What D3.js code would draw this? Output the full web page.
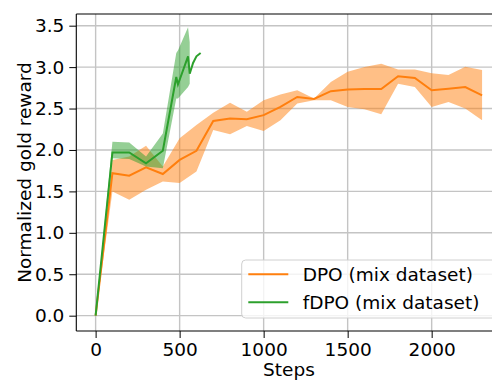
<!DOCTYPE html>
<html><head><meta charset="utf-8">
<script src="https://cdn.jsdelivr.net/npm/d3@7"></script>
<style>html,body{margin:0;padding:0;background:#fff;overflow:hidden}svg{display:block}</style>
</head><body>
<script>
const dpoSteps = [0,100,200,300,400,500,600,700,800,900,1000,1100,1200,1300,1400,1500,1600,1700,1800,1900,2000,2100,2200,2300];
const dpoMean  = [0,1.72,1.69,1.79,1.71,1.88,1.99,2.35,2.38,2.37,2.42,2.52,2.64,2.615,2.71,2.73,2.735,2.735,2.89,2.87,2.72,2.74,2.76,2.66];
const dpoUpper = [0,1.88,1.92,2.05,1.80,2.14,2.30,2.45,2.57,2.46,2.60,2.67,2.72,2.62,2.82,2.945,3.00,3.04,2.97,2.97,2.925,2.905,3.005,2.965];
const dpoLower = [0,1.50,1.40,1.52,1.62,1.60,1.74,2.24,2.19,2.29,2.23,2.36,2.56,2.60,2.60,2.52,2.49,2.43,2.80,2.76,2.52,2.58,2.50,2.36];

const fdpoSteps = [0,100,200,300,400,480,490,550,560,580,600,625];
const fdpoMean  = [0,1.97,1.97,1.84,1.99,2.88,2.79,3.13,2.92,3.05,3.13,3.17];
const fdpoUpper = [0,2.10,2.09,1.92,2.20,3.17,3.20,3.48,3.30,null,null,null];
const fdpoLower = [0,1.90,1.89,1.80,1.78,2.62,2.62,2.76,2.80,null,null,null];

const xTicks = [0,500,1000,1500,2000];
const yTicks = [0,0.5,1.0,1.5,2.0,2.5,3.0,3.5];
const seriesNames = ["DPO (mix dataset)","fDPO (mix dataset)"];
const colors = ["#ff7f0e","#2ca02c"];

const W = 492, H = 381;
const L = 76.3, T = 14, B = 331, R = 501.4;
const FONT = "DejaVu Sans, sans-serif";
const FS = 18.5;

const x = d3.scaleLinear().domain([-115, 2415]).range([L, R]);
const y = d3.scaleLinear().domain([-0.185, 3.641]).range([B, T]);

const svg = d3.select("body").append("svg").attr("width", W).attr("height", H);
svg.append("defs").append("clipPath").attr("id","clip")
  .append("rect").attr("x", L).attr("y", T).attr("width", R - L).attr("height", B - T);

// grid
const grid = svg.append("g");
grid.selectAll("line.gx").data(xTicks).enter().append("line")
  .attr("x1", d => x(d)).attr("x2", d => x(d)).attr("y1", T).attr("y2", B)
  .attr("stroke", "#c4c4c4").attr("stroke-width", 1.4);
grid.selectAll("line.gy").data(yTicks).enter().append("line")
  .attr("x1", L).attr("x2", R).attr("y1", d => y(d)).attr("y2", d => y(d))
  .attr("stroke", "#c4c4c4").attr("stroke-width", 1.4);

const plot = svg.append("g").attr("clip-path", "url(#clip)");

function draw(steps, mean, upper, lower, color) {
  const pts = steps.map((s, i) => ({s, m: mean[i], u: upper[i], l: lower[i]}));
  const line = d3.line().x(d => x(d.s)).y(d => y(d.m));
  const area = d3.area().defined(d => d.u != null && d.l != null)
    .x(d => x(d.s)).y0(d => y(d.l)).y1(d => y(d.u));
  plot.append("path").datum(pts).attr("d", line).attr("fill", "none")
    .attr("stroke", color).attr("stroke-width", 2);
  plot.append("path").datum(pts).attr("d", area).attr("fill", color)
    .attr("fill-opacity", 0.5).attr("stroke", "none");
}
draw(dpoSteps, dpoMean, dpoUpper, dpoLower, colors[0]);
draw(fdpoSteps, fdpoMean, fdpoUpper, fdpoLower, colors[1]);

// axes
const xAxis = d3.axisBottom(x).tickValues(xTicks).tickFormat(d3.format("d")).tickSize(7).tickPadding(5);
const gx = svg.append("g").attr("transform", `translate(0,${B})`).call(xAxis);
const yAxis = d3.axisLeft(y).tickValues(yTicks).tickFormat(d3.format(".1f")).tickSize(7).tickPadding(5);
const gy = svg.append("g").attr("transform", `translate(${L},0)`).call(yAxis);
[gx, gy].forEach(g => {
  g.selectAll("text").attr("font-family", FONT).attr("font-size", FS).attr("fill", "#000");
  g.selectAll(".tick line").attr("stroke", "#000").attr("stroke-width", 1);
  g.select(".domain").remove();
});
// spines
svg.append("line").attr("x1", L).attr("x2", L).attr("y1", T).attr("y2", B).attr("stroke", "#000").attr("stroke-width", 1.1);
svg.append("line").attr("x1", L).attr("x2", R).attr("y1", B).attr("y2", B).attr("stroke", "#000").attr("stroke-width", 1.1);
svg.append("line").attr("x1", L).attr("x2", R).attr("y1", T).attr("y2", T).attr("stroke", "#000").attr("stroke-width", 1.1);

// axis labels
svg.append("text").attr("x", 289).attr("y", 376)
  .attr("text-anchor", "middle").attr("font-family", FONT).attr("font-size", FS).text("Steps");
svg.append("text").attr("transform", `translate(31,${(T + B) / 2}) rotate(-90)`)
  .attr("text-anchor", "middle").attr("font-family", FONT).attr("font-size", FS).text("Normalized gold reward");

// legend
const lg = svg.append("g");
lg.append("rect").attr("x", 241.7).attr("y", 260).attr("width", 258).attr("height", 58)
  .attr("rx", 4).attr("fill", "#fff").attr("fill-opacity", 0.8).attr("stroke", "#d0d0d0").attr("stroke-width", 1);
seriesNames.forEach((n, i) => {
  const yy = 274.3 + i * 28;
  lg.append("line").attr("x1", 248.3).attr("x2", 288.3).attr("y1", yy).attr("y2", yy)
    .attr("stroke", colors[i]).attr("stroke-width", 2);
  lg.append("text").attr("x", 302.7).attr("y", yy + 6.5).attr("font-family", FONT)
    .attr("font-size", FS).text(n);
});
</script>
</body></html>
